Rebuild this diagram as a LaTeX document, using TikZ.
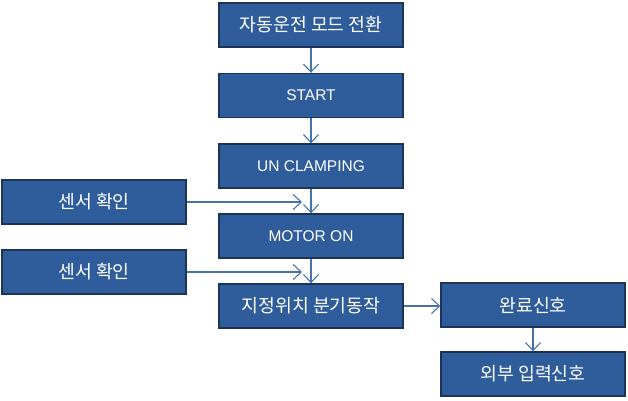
\documentclass[tikz,border=0pt]{standalone}
\usepackage{fontspec}
\setmainfont{Liberation Sans}
\newfontfamily\kr{Noto Sans CJK KR}[Scale=1.18]
\usetikzlibrary{arrows.meta}
\definecolor{boxfill}{HTML}{2F5D9C}
\definecolor{boxline}{HTML}{1C3557}
\definecolor{arr}{HTML}{4672B0}
\tikzset{
  box/.style={draw=boxline, line width=1.4pt, fill=boxfill, text=white,
    minimum width=184pt, minimum height=44pt, inner sep=0pt,
    font=\fontsize{15.5}{18}\selectfont},
  conn/.style={draw=arr, line width=1.1pt, -{Straight Barb[length=8pt,width=15pt,line width=1.1pt]}}
}
\begin{document}
\begin{tikzpicture}[x=1pt,y=-1pt]
\useasboundingbox (0,0) rectangle (628,400);
\node[box] (b1) at (311,25) {\kr 자동운전 모드 전환};
\node[box] (b2) at (311,95.5) {START};
\node[box] (b3) at (311,166) {UN CLAMPING};
\node[box] (b4) at (311,236) {MOTOR ON};
\node[box] (b5) at (311,306) {\kr 지정위치 분기동작};
\node[box] (l1) at (94,202) {\kr 센서 확인};
\node[box] (l2) at (94,272) {\kr 센서 확인};
\node[box] (r1) at (533,305) {\kr 완료신호};
\node[box] (r2) at (533,374) {\kr 외부 입력신호};
\coordinate (e1) at (302,202);
\coordinate (e2) at (302,271);
\draw[conn] (b1) -- (b2);
\draw[conn] (b2) -- (b3);
\draw[conn] (b3) -- (b4);
\draw[conn] (b4) -- (b5);
\draw[conn] (l1.east) -- (e1);
\draw[conn] (l2.east) -- (l2.east -| e2);
\draw[conn] (b5.east) -- (r1.west |- b5.east);
\draw[conn] (r1) -- (r2);
\end{tikzpicture}
\end{document}
